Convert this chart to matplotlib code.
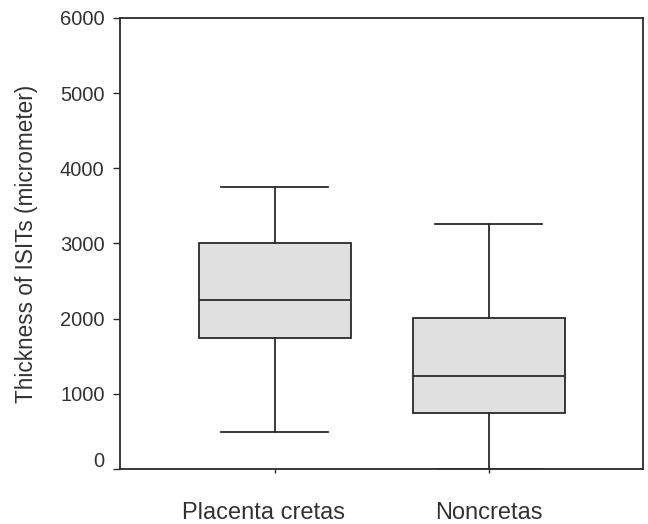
import matplotlib

matplotlib.use("Agg")
import matplotlib.pyplot as plt
from matplotlib.transforms import ScaledTranslation

# box plot summary
groups = ["Placenta cretas", "Noncretas"]
whisker_low = [490, 0]
q1 = [1745, 745]
median = [2245, 1240]
q3 = [3000, 2005]
whisker_high = [3745, 3255]

plt.rcParams["font.family"] = ["Liberation Sans", "DejaVu Sans"]
line = "#2a2a2a"
text = "#333333"

fig = plt.figure(figsize=(6.48, 5.24), dpi=100)
ax = fig.add_axes([0.185, 0.105, 0.807, 0.861])

stats = [
    {"label": g, "whislo": lo, "q1": a, "med": m, "q3": b, "whishi": hi, "fliers": []}
    for g, lo, a, m, b, hi in zip(groups, whisker_low, q1, median, q3, whisker_high)
]
lp = {"color": line, "linewidth": 1.3}
ax.bxp(
    stats,
    positions=[1, 2],
    widths=0.71,
    patch_artist=True,
    showfliers=False,
    boxprops={"facecolor": "#e0e0e0", "edgecolor": line, "linewidth": 1.3},
    medianprops=lp,
    whiskerprops=lp,
    capprops=lp,
    capwidths=0.5,
)

ax.set_xlim(0.276, 2.72)
ax.set_ylim(0, 6000)
ax.set_yticks(range(0, 6001, 1000))
ax.set_xticks([1, 2])
ax.set_xticklabels(groups)
ax.tick_params(axis="y", direction="out", length=5, width=1, color=line, labelsize=14.5, labelcolor=text, pad=6)
ax.tick_params(axis="x", direction="out", length=3, width=1, color=line, labelsize=17, labelcolor=text, pad=21)
for s in ax.spines.values():
    s.set_color(line)
    s.set_linewidth(1.3)
ax.set_ylabel("Thickness of ISITs (micrometer)", fontsize=16.3, color=text, labelpad=16)

# the original nudges the "0" label up and the first category label left
fig.canvas.draw()
ylab0 = ax.get_yticklabels()[0]
ylab0.set_transform(ylab0.get_transform() + ScaledTranslation(0, 0.09, fig.dpi_scale_trans))
xlab0 = ax.get_xticklabels()[0]
xlab0.set_transform(xlab0.get_transform() + ScaledTranslation(-0.11, 0, fig.dpi_scale_trans))

fig.savefig("out.png", dpi=100)
plt.close(fig)
